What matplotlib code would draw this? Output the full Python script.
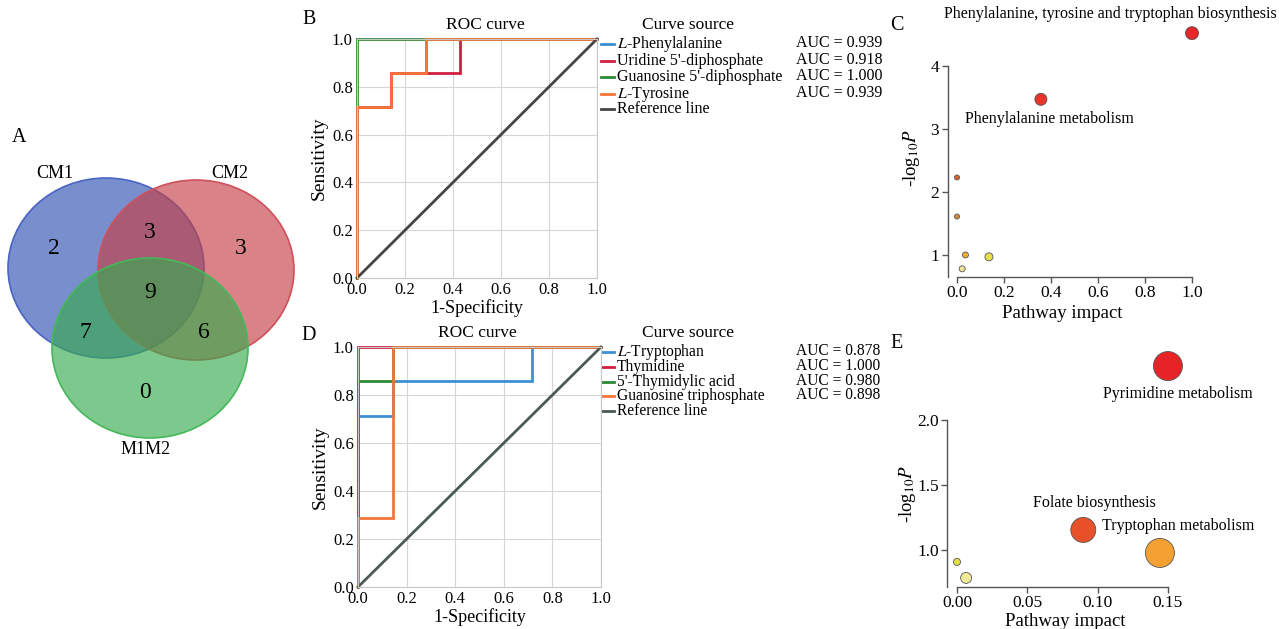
import matplotlib
matplotlib.use("Agg")
import matplotlib.pyplot as plt
from matplotlib.patches import Ellipse
from matplotlib.lines import Line2D

plt.rcParams["font.family"] = "serif"
plt.rcParams["font.serif"] = ["Liberation Serif", "DejaVu Serif"]
plt.rcParams["mathtext.fontset"] = "stix"

W, H = 1279, 629

# --------------------------------------------------------------------------- #
# data
# --------------------------------------------------------------------------- #
venn_sets = ["CM1", "CM2", "M1M2"]
venn_regions = ["CM1", "CM1&CM2", "CM2", "all", "CM1&M1M2", "CM2&M1M2", "M1M2"]
venn_counts = [2, 3, 3, 9, 7, 6, 0]

roc_b_names = ["$L$-Phenylalanine", "Uridine 5'-diphosphate",
               "Guanosine 5'-diphosphate", "$L$-Tyrosine"]
roc_b_auc = [0.939, 0.918, 1.000, 0.939]
roc_b_fpr = [[0, 0, 0.143, 0.143, 0.286, 0.286, 1],
             [0, 0, 0.143, 0.143, 0.429, 0.429, 1],
             [0, 0, 1],
             [0, 0, 0.143, 0.143, 0.286, 0.286, 1]]
roc_b_tpr = [[0, 0.714, 0.714, 0.857, 0.857, 1, 1],
             [0, 0.714, 0.714, 0.857, 0.857, 1, 1],
             [0, 1, 1],
             [0, 0.714, 0.714, 0.857, 0.857, 1, 1]]

roc_d_names = ["$L$-Tryptophan", "Thymidine", "5'-Thymidylic acid",
               "Guanosine triphosphate"]
roc_d_auc = [0.878, 1.000, 0.980, 0.898]
roc_d_fpr = [[0, 0, 0.143, 0.143, 0.714, 0.714, 1],
             [0, 0, 1],
             [0, 0, 0.143, 0.143, 1],
             [0, 0, 0.143, 0.143, 1]]
roc_d_tpr = [[0, 0.714, 0.714, 0.857, 0.857, 1, 1],
             [0, 1, 1],
             [0, 0.857, 0.857, 1, 1],
             [0, 0.286, 0.286, 1, 1]]

c_pathways = ["Phenylalanine, tyrosine and tryptophan biosynthesis",
              "Phenylalanine metabolism", "", "", "", "", ""]
c_impact = [1.0, 0.357, 0.0, 0.0, 0.036, 0.136, 0.022]
c_logp = [4.52, 3.47, 2.23, 1.61, 1.00, 0.97, 0.78]

e_pathways = ["Pyrimidine metabolism", "Folate biosynthesis",
              "Tryptophan metabolism", "", ""]
e_impact = [0.150, 0.0898, 0.1443, 0.0, 0.0065]
e_logp = [2.415, 1.154, 0.977, 0.908, 0.785]

# --------------------------------------------------------------------------- #
# styles
# --------------------------------------------------------------------------- #
roc_colors = ["#3D8FD6", "#D21F3F", "#2F8A34", "#F4743B"]
ref_color_b = "#454545"
ref_color_d = "#4C5A56"

c_colors = ["#E8262A", "#E8342A", "#D8652E", "#DC8A38", "#F0B030", "#E6DF48", "#EDE39A"]
c_diam_px = [13, 12, 5, 5, 6, 8, 6]
c_label_off = [(-59, 14), (6, -14.5)]
e_colors = ["#E82328", "#E8502A", "#F5A032", "#E6E040", "#EEEA96"]
e_diam_px = [29, 25, 29, 7, 11]
e_label_off = [(7, -20), (8, 19.5), (13, 19.5)]


def px_axes(fig, x0, y0, x1, y1):
    return fig.add_axes([x0 / W, 1 - y1 / H, (x1 - x0) / W, (y1 - y0) / H])


def s_from_px(d):
    return (d * 72.0 / 100.0) ** 2


fig = plt.figure(figsize=(W / 100, H / 100), dpi=100)

# overlay in pixel coordinates for the Venn diagram and free text
ov = fig.add_axes([0, 0, 1, 1])
ov.set_xlim(0, W)
ov.set_ylim(H, 0)
ov.axis("off")

# ---- A: Venn ----
venn_centres = [(106, 268), (196, 270), (150, 348)]
venn_face = ["#3051B2", "#C53F47", "#37AB4E"]
venn_edge = ["#4A64C4", "#D0505A", "#45B85A"]
for (cx, cy), fc, ec in zip(venn_centres, venn_face, venn_edge):
    ov.add_patch(Ellipse((cx, cy), 196, 180, facecolor=fc, alpha=0.65,
                         edgecolor="none"))
    ov.add_patch(Ellipse((cx, cy), 196, 180, facecolor="none",
                         edgecolor=ec, lw=1.2))
venn_text_pos = [(54, 248), (150, 232), (241, 248), (150, 292),
                 (85, 333), (204, 333), (145, 393)]
for (tx, ty), n in zip(venn_text_pos, venn_counts):
    ov.text(tx, ty, str(n), fontsize=17, ha="center", va="center")
for (tx, ty), name in zip([(55, 173), (230, 173), (146, 450)], venn_sets):
    ov.text(tx, ty, name, fontsize=13, ha="center", va="center")

# ---- ROC panels ----
def roc_panel(box, names, auc, fprs, tprs, ref_color, title_xy, leg, fs_leg):
    ax = px_axes(fig, *box)
    for f, t, c in zip(fprs, tprs, roc_colors):
        ax.plot(f, t, color=c, lw=2.0, clip_on=False, solid_joinstyle="miter")
    ax.plot([0, 1], [0, 1], color=ref_color, lw=2.0, clip_on=False)
    ax.set_xlim(0, 1)
    ax.set_ylim(0, 1)
    ticks = [0, 0.2, 0.4, 0.6, 0.8, 1.0]
    ax.set_xticks(ticks)
    ax.set_yticks(ticks)
    ax.set_xticklabels([f"{v:.1f}" for v in ticks], fontsize=12)
    ax.set_yticklabels([f"{v:.1f}" for v in ticks], fontsize=12)
    ax.tick_params(length=0, pad=3)
    ax.grid(True, color="#D6D6D6", lw=0.8)
    ax.set_axisbelow(True)
    for sp in ax.spines.values():
        sp.set_color("#C8C8C8")
        sp.set_linewidth(0.8)
    ax.set_ylabel("Sensitivity", fontsize=14, labelpad=3)
    ax.set_xlabel("1-Specificity", fontsize=13, labelpad=1)
    ov.text(title_xy[0], title_xy[1], "ROC curve", fontsize=12.5,
            ha="center", va="center")
    # legend
    lx, ty, rows, auc_x = leg
    ov.text(lx + 87, ty, "Curve source", fontsize=12.5, ha="center", va="center")
    labels = names + ["Reference line"]
    cols = roc_colors + [ref_color]
    for i, (lab, c) in enumerate(zip(labels, cols)):
        y = rows[i]
        ov.add_line(Line2D([lx, lx + 13], [y, y], color=c, lw=2.0))
        ov.text(lx + 16, y, lab, fontsize=fs_leg, ha="left", va="center")
    for i, a in enumerate(auc):
        ov.text(auc_x, rows[i] - 1, f"AUC = {a:.3f}", fontsize=fs_leg,
                ha="left", va="center")
    return ax


roc_panel((357, 39, 597, 278), roc_b_names, roc_b_auc, roc_b_fpr, roc_b_tpr,
          ref_color_b, (485, 25),
          (601, 25, [44, 61, 77, 94, 109], 796), 11.5)
roc_panel((358, 347, 601, 587), roc_d_names, roc_d_auc, roc_d_fpr, roc_d_tpr,
          ref_color_d, (477, 333),
          (601, 333, [352, 367, 382, 396, 411], 796), 11.2)


# ---- pathway bubble panels ----
def bubble_panel(box, xlim, ylim, xb, yb, xticks, yticks, xfmt, yfmt,
                 x, y, cols, diam, names, offs, ylab_xy, xlab_xy):
    ax = px_axes(fig, *box)
    ax.scatter(x, y, s=[s_from_px(d) for d in diam], c=cols,
               edgecolors="#555555", linewidths=0.6, zorder=3, clip_on=False)
    for i, (name, off) in enumerate(zip(names, offs)):
        if name:
            ax.annotate(name, (x[i], y[i]), xytext=off, textcoords="offset points",
                        ha="center", va="center", fontsize=11.5)
    ax.set_xlim(*xlim)
    ax.set_ylim(*ylim)
    ax.patch.set_alpha(0)
    for s in ("top", "right"):
        ax.spines[s].set_visible(False)
    ax.spines["left"].set_bounds(*yb)
    ax.spines["bottom"].set_bounds(*xb)
    for s in ("left", "bottom"):
        ax.spines[s].set_color("#555555")
        ax.spines[s].set_linewidth(1.0)
    ax.set_xticks(xticks)
    ax.set_yticks(yticks)
    ax.set_xticklabels([xfmt.format(v) for v in xticks], fontsize=12.5)
    ax.set_yticklabels([yfmt.format(v) for v in yticks], fontsize=12.5)
    ax.tick_params(direction="out", length=4, width=1.0, color="#555555", pad=2)
    ov.text(ylab_xy[0], ylab_xy[1], "-log$_{10}$$P$", fontsize=13.5,
            rotation=90, ha="center", va="center")
    ov.text(xlab_xy[0], xlab_xy[1], "Pathway impact", fontsize=13.5,
            ha="center", va="center")
    return ax


bubble_panel((947.6, 25, 1206.1, 277), (-0.04, 1.06), (0.65, 4.65), (0, 1), (0.65, 4),
             [0, 0.2, 0.4, 0.6, 0.8, 1.0], [1, 2, 3, 4], "{:.1f}", "{:d}",
             c_impact, c_logp, c_colors, c_diam_px, c_pathways, c_label_off + [(0, 0)] * 5,
             (911, 158), (1062, 313))
bubble_panel((947, 348.5, 1182, 587), (-0.0071, 0.16), (0.715, 2.55), (0, 0.15), (0.715, 2.0),
             [0, 0.05, 0.10, 0.15], [1.0, 1.5, 2.0], "{:.2f}", "{:.1f}",
             e_impact, e_logp, e_colors, e_diam_px, e_pathways, e_label_off + [(0, 0)] * 2,
             (907, 494), (1065, 621))

# panel letters
for letter, (lx, ly) in zip("ABCDE", [(19, 137), (309, 19), (897, 25), (309, 336), (897, 343)]):
    ov.text(lx, ly, letter, fontsize=14.5, ha="center", va="center")

fig.savefig("out.png", dpi=100)
